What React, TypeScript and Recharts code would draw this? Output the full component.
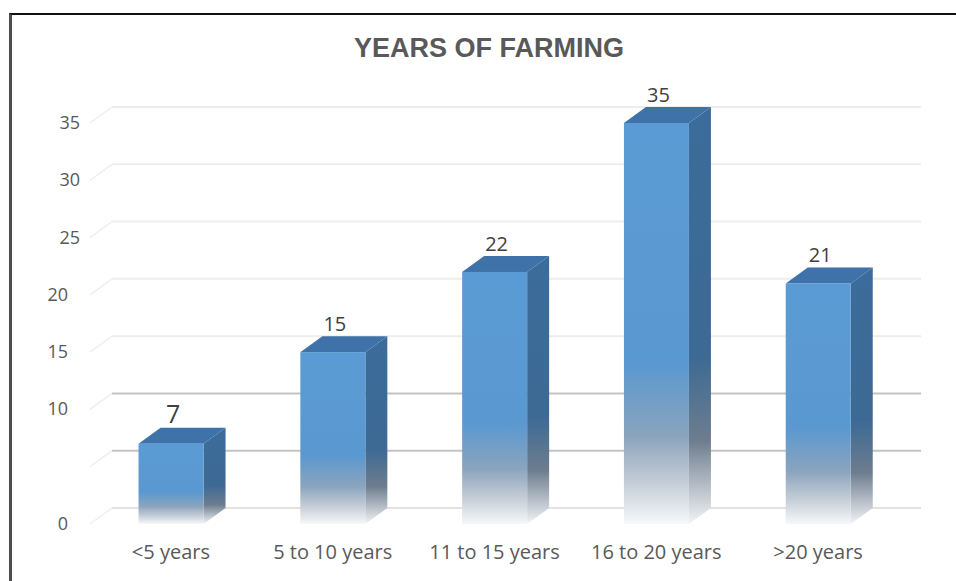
import { BarChart, Bar, XAxis, YAxis, CartesianGrid, LabelList } from "recharts";

const categories = ["<5 years", "5 to 10 years", "11 to 15 years", "16 to 20 years", ">20 years"];
const farmers = [7, 15, 22, 35, 21];
const yTicks = [0, 5, 10, 15, 20, 25, 30, 35];

const rows = categories.map((name, i) => ({ name, value: farmers[i] }));

// depth of the fake 3d extrusion
const DX = 22;
const DY = -16;

const FONT = "'Open Sans', 'DejaVu Sans', sans-serif";

function Box3D(props: any) {
  const { x, y, width: w, height: h } = props;
  if (!h) return null;
  const side = `${x + w},${y} ${x + w + DX},${y + DY} ${x + w + DX},${y + h + DY} ${x + w},${y + h}`;
  const top = `${x},${y} ${x + DX},${y + DY} ${x + w + DX},${y + DY} ${x + w},${y}`;
  return (
    <g>
      <polygon points={side} fill="url(#sideFade)" />
      <polygon points={top} fill="#3f72a8" />
      <rect x={x} y={y} width={w} height={h} fill="url(#frontFade)" />
    </g>
  );
}

function BackGridLine(props: any) {
  const { x1, y1, x2, y, height } = props;
  const v = Math.round(((y + height - y1) / height) * 35);
  const stroke = v === 5 || v === 10 ? "#c3c3c3" : v === 0 ? "#e2e2e2" : "#ededed";
  return (
    <g key={props.key}>
      <line x1={x1} y1={y1} x2={x1 + DX} y2={y1 + DY} stroke="#efefef" strokeWidth={1.5} />
      <line x1={x1 + DX} y1={y1 + DY} x2={x2 + DX} y2={y1 + DY} stroke={stroke} strokeWidth={2} />
    </g>
  );
}

function YTick(props: any) {
  const { x, y, payload } = props;
  const v = payload.value;
  if (v === 5) return <g />;
  return (
    <text x={x + (v >= 25 ? -2 : -14)} y={y} dy={6} textAnchor="end" fontFamily={FONT} fontSize={18} fill="#595959">
      {v}
    </text>
  );
}

function ValueLabel(props: any) {
  const { x, y, width, value, index } = props;
  return (
    <text x={x + width / 2 + 2} y={y - 21} textAnchor="middle" fontFamily={FONT} fontSize={index === 0 ? 25 : 20} fill="#404040">
      {value}
    </text>
  );
}

export default function App() {
  return (
    <div style={{ position: "absolute", left: 0, top: 0, width: 956, height: 581, overflow: "hidden", background: "#fff" }}>
      <div style={{ position: "absolute", left: 9, top: 13, right: 0, bottom: 0, borderTop: "2px solid #111", borderLeft: "3px solid #4d4d4d" }} />
      <div
        style={{
          position: "absolute", left: 0, width: 978, top: 35, textAlign: "center",
          fontFamily: "'Liberation Sans', Arial, sans-serif", fontWeight: 700, fontSize: 27, lineHeight: "27px", color: "#595959",
        }}
      >
        YEARS OF FARMING
      </div>
      <BarChart width={956} height={581} data={rows} margin={{ top: 123, right: 57, bottom: 17, left: 0 }} barCategoryGap="30%">
        <defs>
          <linearGradient id="frontFade" x1="0" y1="0" x2="0" y2="1">
            <stop offset="0" stopColor="#5b9bd5" />
            <stop offset="0.6" stopColor="#5a98d0" />
            <stop offset="0.78" stopColor="#8aa4bd" />
            <stop offset="0.9" stopColor="#c6ced7" />
            <stop offset="1" stopColor="#f6f8fa" />
          </linearGradient>
          <linearGradient id="sideFade" x1="0" y1="0" x2="0" y2="1">
            <stop offset="0" stopColor="#3c6c9b" />
            <stop offset="0.6" stopColor="#3d6a94" />
            <stop offset="0.8" stopColor="#6d7d8e" />
            <stop offset="1" stopColor="#f2f3f5" />
          </linearGradient>
        </defs>
        <CartesianGrid vertical={false} horizontal={(p: any) => <BackGridLine {...p} />} />
        <XAxis
          dataKey="name"
          axisLine={false}
          tickLine={false}
          height={40}
          tickMargin={15}
          tick={{ fontFamily: FONT, fontSize: 20, fill: "#595959" }}
        />
        <YAxis
          width={90}
          domain={[0, 35]}
          ticks={yTicks}
          interval={0}
          axisLine={false}
          tickLine={false}
          tick={(p: any) => <YTick {...p} />}
        />
        <Bar dataKey="value" shape={(p: any) => <Box3D {...p} />} isAnimationActive={false}>
          <LabelList dataKey="value" content={(p: any) => <ValueLabel {...p} />} />
        </Bar>
      </BarChart>
    </div>
  );
}
